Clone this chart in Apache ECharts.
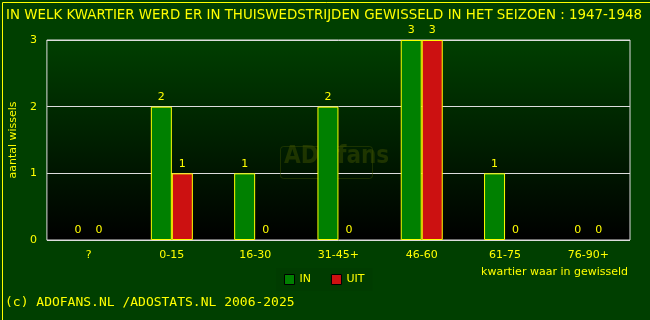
<!DOCTYPE html>
<html><head><meta charset="utf-8">
<script src="https://cdn.jsdelivr.net/npm/echarts@6/dist/echarts.min.js"></script>
<style>html,body{margin:0;padding:0;background:#003f00}#c{width:650px;height:320px}</style>
</head><body><div id="c"></div>
<script>
const categories = ['?', '0-15', '16-30', '31-45+', '46-60', '61-75', '76-90+'];
const valuesIn = [0, 2, 1, 2, 3, 1, 0];
const valuesUit = [0, 1, 0, 0, 3, 0, 0];
const titleText = 'IN WELK KWARTIER WERD ER IN THUISWEDSTRIJDEN GEWISSELD IN HET SEIZOEN : 1947-1948';
const footerText = '(c) ADOFANS.NL /ADOSTATS.NL 2006-2025';

const chart = echarts.init(document.getElementById('c'));
const lbl = {show: true, position: 'top', color: '#ffff00', fontFamily: 'DejaVu Sans', fontSize: 11, distance: 4};
const toItems = arr => arr.map(v => v === 0 ? {value: v, itemStyle: {borderWidth: 0}} : v);
chart.setOption({
  backgroundColor: '#003f00',
  animation: false,
  textStyle: {fontFamily: 'DejaVu Sans'},
  title: {text: titleText, left: 1, top: 4, textStyle: {color: '#ffff00', fontSize: 13.4, fontWeight: 'normal', fontFamily: 'DejaVu Sans'}},
  grid: {left: 45, right: 20, top: 40, bottom: 80, containLabel: false,
    show: true, borderColor: '#dddddd', borderWidth: 1,
    backgroundColor: new echarts.graphic.LinearGradient(0, 0, 0, 1, [{offset: 0, color: '#003f00'}, {offset: 1, color: '#000000'}])},
  legend: {data: ['IN', 'UIT'], left: 276, top: 268, itemWidth: 10, itemHeight: 10, itemGap: 20,
    backgroundColor: '#003c00', padding: [6, 8],
    itemStyle: {borderColor: '#000000', borderWidth: 1},
    textStyle: {color: '#ffff00', fontSize: 11}, icon: 'rect'},
  xAxis: {type: 'category', data: categories,
    name: 'kwartier waar in gewisseld', nameLocation: 'end', nameGap: 0,
    nameTextStyle: {color: '#ffff00', fontSize: 11, align: 'right', verticalAlign: 'top', padding: [27, 2, 0, 0]},
    axisLine: {show: false}, axisTick: {show: false},
    axisLabel: {color: '#ffff00', fontSize: 11, margin: 10}},
  yAxis: {type: 'value', min: 0, max: 3, interval: 1,
    name: 'aantal wissels', nameLocation: 'middle', nameGap: 27,
    nameTextStyle: {color: '#ffff00', fontSize: 11},
    axisLine: {show: false}, axisTick: {show: false},
    axisLabel: {color: '#ffff00', fontSize: 11, margin: 10},
    splitLine: {lineStyle: {color: '#dddddd', width: 1}}},
  series: [
    {name: 'IN', type: 'bar', data: toItems(valuesIn), barWidth: 21, barGap: '0%',
      itemStyle: {color: '#008000', borderColor: '#ffff00', borderWidth: 1}, label: lbl},
    {name: 'UIT', type: 'bar', data: toItems(valuesUit), barWidth: 21,
      itemStyle: {color: '#cc1111', borderColor: '#ffff00', borderWidth: 1}, label: lbl}
  ],
  graphic: [
    {type: 'rect', left: 0, top: 0, shape: {width: 649, height: 319}, style: {fill: 'none', stroke: '#ffff00', lineWidth: 1}, silent: true, z: 100},
    {type: 'rect', left: 278, top: 144, shape: {width: 92, height: 32, r: 3}, style: {fill: 'none', stroke: 'rgba(60,80,0,0.45)', lineWidth: 1}, z: 1},
    {type: 'text', left: 284, top: 145, style: {text: 'ADOfans', fill: 'rgba(60,80,0,0.5)', font: 'bold 24px "DejaVu Sans Condensed"'}, z: 1},
    {type: 'text', left: 5, top: 296, style: {text: footerText, fill: '#ffff00', font: '13px "DejaVu Sans Mono"'}}
  ]
});
</script></body></html>
